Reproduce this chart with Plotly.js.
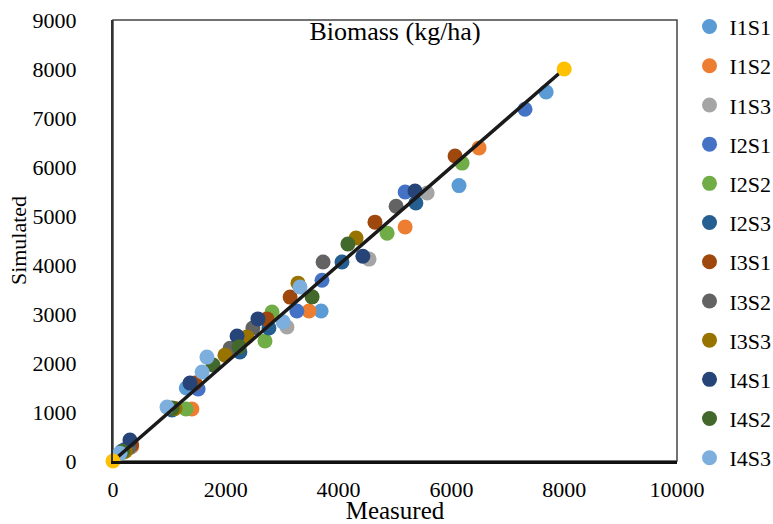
<!DOCTYPE html>
<html>
<head>
<meta charset="utf-8">
<script src="https://cdn.plot.ly/plotly-3.0.1.min.js"></script>
<style>html,body{margin:0;padding:0;background:#fff;}#chart{width:773px;height:524px;}</style>
</head>
<body>
<div id="chart"></div>
<script>
const seriesNames = ["I1S1","I1S2","I1S3","I2S1","I2S2","I2S3","I3S1","I3S2","I3S3","I4S1","I4S2","I4S3"];
const seriesColors = ["#5B9BD5","#ED7D31","#A5A5A5","#4472C4","#70AD47","#255E91","#9E480E","#636363","#997300","#264478","#43682B","#7CAFDD"];

const I1S1_x = [150, 1300, 3690, 6135, 7680];
const I1S1_y = [200, 1490, 3060, 5620, 7530];
const I1S2_x = [330, 1400, 3475, 5180, 6490];
const I1S2_y = [290, 1060, 3060, 4775, 6390];
const I1S3_x = [310, 3085, 4540, 5570];
const I1S3_y = [280, 2735, 4120, 5470];
const I2S1_x = [200, 1510, 3260, 3705, 5180, 7305];
const I2S1_y = [230, 1470, 3060, 3690, 5490, 7180];
const I2S2_x = [180, 1295, 2695, 2820, 4860, 6190];
const I2S2_y = [180, 1060, 2450, 3040, 4650, 6080];
const I2S3_x = [250, 1045, 2250, 2765, 4060, 5370];
const I2S3_y = [250, 1040, 2225, 2715, 4060, 5265];
const I3S1_x = [330, 1455, 2730, 3140, 4645, 6065];
const I3S1_y = [330, 1590, 2900, 3345, 4875, 6225];
const I3S2_x = [280, 2075, 2480, 3725, 5020];
const I3S2_y = [270, 2300, 2715, 4060, 5200];
const I3S3_x = [220, 1100, 1985, 2375, 3280, 4310];
const I3S3_y = [200, 1070, 2160, 2530, 3630, 4550];
const I4S1_x = [300, 1365, 2200, 2570, 4430, 5355];
const I4S1_y = [430, 1590, 2550, 2900, 4180, 5510];
const I4S2_x = [170, 1050, 1775, 2235, 3530, 4165];
const I4S2_y = [200, 1080, 1960, 2330, 3350, 4430];
const I4S3_x = [125, 957, 1580, 1665, 3015, 3315];
const I4S3_y = [160, 1100, 1815, 2120, 2840, 3550];

const oneToOne_x = [0, 8000];
const oneToOne_y = [0, 8000];

const xTicks = [0, 2000, 4000, 6000, 8000, 10000];
const yTicks = [0, 1000, 2000, 3000, 4000, 5000, 6000, 7000, 8000, 9000];

const seriesX = [I1S1_x,I1S2_x,I1S3_x,I2S1_x,I2S2_x,I2S3_x,I3S1_x,I3S2_x,I3S3_x,I4S1_x,I4S2_x,I4S3_x];
const seriesY = [I1S1_y,I1S2_y,I1S3_y,I2S1_y,I2S2_y,I2S3_y,I3S1_y,I3S2_y,I3S3_y,I4S1_y,I4S2_y,I4S3_y];

const FONT = "'Liberation Serif', 'Times New Roman', serif";

const traces = seriesNames.map((n, i) => ({
  type: 'scatter', mode: 'markers', name: n,
  x: seriesX[i], y: seriesY[i],
  legendgroup: n,
  marker: {color: seriesColors[i], size: 15, line: {width: 0}},
  cliponaxis: false
}));
traces.push({
  type: 'scatter', mode: 'lines+markers', name: '1:1',
  x: oneToOne_x, y: oneToOne_y, showlegend: false,
  line: {color: '#1a1a1a', width: 3.5},
  marker: {color: '#FFC000', size: 15},
  cliponaxis: false
});

const layout = {
  width: 773, height: 524,
  margin: {l: 113, r: 96, t: 20, b: 63, autoexpand: false},
  paper_bgcolor: '#fff', plot_bgcolor: '#fff',
  font: {family: FONT, color: '#000', size: 22},
  showlegend: true,
  legend: {
    xref: 'container', yref: 'container',
    x: 0.892, y: 0.989, xanchor: 'left', yanchor: 'top',
    font: {family: FONT, size: 22, color: '#000'},
    traceorder: 'grouped', tracegroupgap: 7.6,
    itemwidth: 30, bgcolor: 'rgba(0,0,0,0)', maxheight: 1
  },
  title: {
    text: 'Biomass (kg/ha)', font: {family: FONT, size: 26, color: '#000'},
    x: 0.5, xref: 'paper', xanchor: 'center', y: 0.975, yref: 'paper', yanchor: 'middle'
  },
  xaxis: {
    range: [0, 10000], tickvals: xTicks, ticktext: xTicks.map(String),
    showgrid: false, zeroline: false, showline: true, linecolor: '#111', linewidth: 3,
    ticks: '', ticklabelstandoff: 7,
    tickfont: {family: FONT, size: 22, color: '#000'},
    title: {text: 'Measured', font: {family: FONT, size: 25, color: '#000'}, standoff: 3}
  },
  yaxis: {
    range: [0, 9000], tickvals: yTicks, ticktext: yTicks.map(String),
    showgrid: false, zeroline: false, showline: true, linecolor: '#333', linewidth: 2,
    ticks: '', ticklabelstandoff: 30,
    tickfont: {family: FONT, size: 22, color: '#000'},
    title: {text: 'Simulated', font: {family: FONT, size: 22, color: '#000'}, standoff: 0}
  },
  shapes: [{
    type: 'rect', xref: 'paper', yref: 'paper', x0: 0, x1: 1, y0: 0, y1: 1,
    line: {color: '#444', width: 1.5}, layer: 'below'
  }]
};

Plotly.newPlot('chart', traces, layout, {displayModeBar: false, staticPlot: true});
</script>
</body>
</html>
